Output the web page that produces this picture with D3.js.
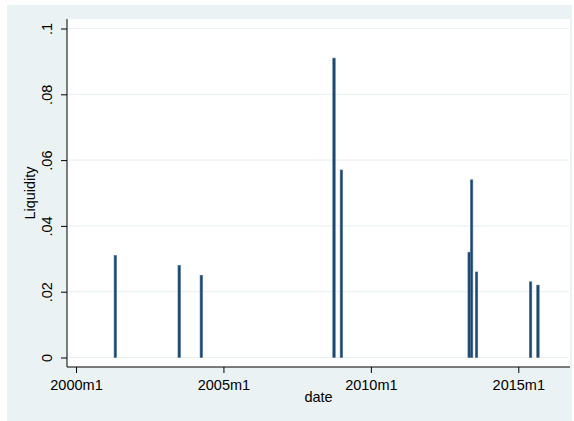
<!DOCTYPE html>
<html>
<head>
<meta charset="utf-8">
<script src="https://cdn.jsdelivr.net/npm/d3@7"></script>
<style>
  html, body { margin: 0; padding: 0; background: #ffffff; }
  svg { display: block; }
  text { font-family: "Liberation Sans", Arial, Helvetica, sans-serif; fill: #000; }
</style>
</head>
<body>
<svg id="chart" width="574" height="421"></svg>
<script>
// Monthly dates (year, month) of each liquidity observation
const dates = [
  [2001, 5], [2003, 7], [2004, 4],
  [2008, 10], [2009, 1],
  [2013, 5], [2013, 6], [2013, 8],
  [2015, 6], [2015, 9]
];
const liquidity = [0.031, 0.028, 0.025, 0.091, 0.057, 0.032, 0.054, 0.026, 0.023, 0.022];

const yTicks = [0, 0.02, 0.04, 0.06, 0.08, 0.1];
const yTickLabels = ["0", ".02", ".04", ".06", ".08", ".1"];
const xTickYears = [2000, 2005, 2010, 2015];
const xTickLabels = ["2000m1", "2005m1", "2010m1", "2015m1"];

// Stata-style monthly index: months since 1960m1
const tm = (y, m) => (y - 1960) * 12 + (m - 1);

const svg = d3.select("#chart");

// Outer graph region
svg.append("rect").attr("x", 7).attr("y", 5).attr("width", 565).attr("height", 416)
  .attr("fill", "#eaf2f3");

const plot = { left: 67, right: 570, top: 19, bottom: 367 };

// Plot region
svg.append("rect").attr("x", plot.left).attr("y", plot.top)
  .attr("width", plot.right - plot.left).attr("height", plot.bottom - plot.top)
  .attr("fill", "#ffffff");

const x = d3.scaleLinear()
  .domain([tm(2000, 1), tm(2015, 1)])
  .range([76, 518.3]);

const y = d3.scaleLinear()
  .domain([0, 0.1])
  .range([357.5, 28.5]);

// Horizontal grid lines
svg.append("g").selectAll("line").data(yTicks).join("line")
  .attr("x1", plot.left + 1).attr("x2", plot.right - 1)
  .attr("y1", d => y(d)).attr("y2", d => y(d))
  .attr("stroke", "#eaf2f3").attr("stroke-width", 1.2);

// Bars, one month wide, centred on the date
const data = dates.map((d, i) => ({ t: tm(d[0], d[1]), v: liquidity[i] }));
svg.append("g").selectAll("rect").data(data).join("rect")
  .attr("x", d => x(d.t - 0.5))
  .attr("width", d => x(d.t + 0.5) - x(d.t - 0.5))
  .attr("y", d => y(d.v))
  .attr("height", d => y(0) - y(d.v))
  .attr("fill", "#1a476f")
  .attr("stroke", "#4a6f93")
  .attr("stroke-width", 0.6);

const tickFont = "14.5px";

// Y axis
const yAxis = d3.axisLeft(y)
  .tickValues(yTicks)
  .tickFormat((d, i) => yTickLabels[i])
  .tickSize(6)
  .tickSizeOuter(0);
const gy = svg.append("g").attr("transform", `translate(${plot.left},0)`).call(yAxis);
gy.select(".domain").remove();
gy.append("line").attr("x1", 0).attr("x2", 0).attr("y1", plot.top).attr("y2", plot.bottom)
  .attr("stroke", "#000").attr("stroke-width", 1);
gy.selectAll(".tick line").attr("stroke", "#000");
gy.selectAll(".tick text")
  .attr("x", 0).attr("y", 0).attr("dy", null)
  .attr("transform", "translate(-19,0) rotate(-90)")
  .attr("text-anchor", "middle")
  .attr("dominant-baseline", "middle")
  .style("font-size", tickFont)
  .style("font-family", "'Liberation Sans', Arial, sans-serif")
  .attr("fill", "#000");

// X axis
const xAxis = d3.axisBottom(x)
  .tickValues(xTickYears.map(yr => tm(yr, 1)))
  .tickFormat((d, i) => xTickLabels[i])
  .tickSize(6)
  .tickSizeOuter(0);
const gx = svg.append("g").attr("transform", `translate(0,${plot.bottom})`).call(xAxis);
gx.select(".domain").remove();
gx.append("line").attr("x1", plot.left).attr("x2", plot.right).attr("y1", 0).attr("y2", 0)
  .attr("stroke", "#000").attr("stroke-width", 1);
gx.selectAll(".tick line").attr("stroke", "#000");
gx.selectAll(".tick text")
  .attr("y", 19).attr("dy", null)
  .attr("dominant-baseline", "middle")
  .style("font-size", tickFont)
  .style("font-family", "'Liberation Sans', Arial, sans-serif")
  .attr("fill", "#000");

// Axis titles
svg.append("text")
  .attr("x", (plot.left + plot.right) / 2).attr("y", 398)
  .attr("text-anchor", "middle").attr("dominant-baseline", "middle")
  .style("font-size", "14.5px")
  .text("date");

svg.append("text")
  .attr("transform", `translate(31,${(plot.top + plot.bottom) / 2}) rotate(-90)`)
  .attr("text-anchor", "middle").attr("dominant-baseline", "middle")
  .style("font-size", "14.5px")
  .text("Liquidity");
</script>
</body>
</html>
